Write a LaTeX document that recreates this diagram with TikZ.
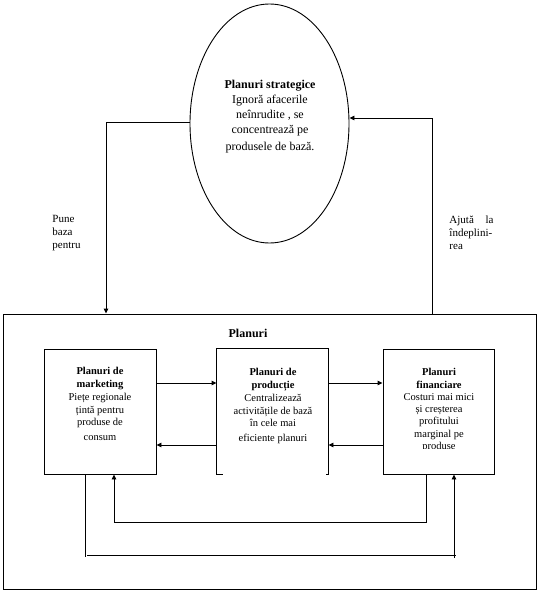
\documentclass[tikz,border=0pt]{standalone}
\usepackage{fontspec}
\setmainfont{Liberation Serif}
\usetikzlibrary{arrows.meta,shapes.geometric}
\begin{document}
\begin{tikzpicture}[x=1pt,y=-1pt,
  line width=0.9pt,
  arr/.style={-{Triangle[length=5pt,width=4.5pt]}},
  box/.style={draw,rectangle,inner sep=0,minimum width=111pt,minimum height=125pt},
  big/.style={font=\fontsize{12}{15}\selectfont, align=center, inner sep=0},
  small/.style={font=\fontsize{10.5}{12.8}\selectfont, align=center, inner sep=0},
  side/.style={font=\fontsize{11}{13}\selectfont, align=left, inner sep=0, anchor=north west}]
\useasboundingbox (0,0) rectangle (539,592);

% strategic ellipse
\node[draw,ellipse,inner sep=0,minimum width=159pt,minimum height=239pt] (strat) at (269.5,123.5) {};
\node[big, anchor=north] (strattxt) at (270,80) {\textbf{Planuri strategice}\\Ignoră afacerile\\neînrudite , se\\concentrează pe\\[2pt]produsele de bază.};

% outer frame
\node[draw,rectangle,inner sep=0,minimum width=533pt,minimum height=275pt] (outer) at (269.5,451.5) {};
\node[font=\fontsize{12}{15}\selectfont\bfseries, inner sep=0] (plan) at (248,333) {Planuri};

% side labels
\node[side] (pune) at (52,215) {Pune\\baza\\pentru};
\node[side] (ajuta) at (449,215) {\makebox[44pt][s]{Ajută la}\\îndeplini-\\rea};

% connectors ellipse <-> frame
\coordinate (cl) at (106,122);
\coordinate (cr) at (432,118);
\draw[arr] (strat.west |- cl) -- (cl) -- (cl |- outer.north);
\draw[arr] (cr |- outer.north) -- (cr) -- (strat.east |- cr);

% boxes
\node[box, minimum width=112pt] (mk) at (100,411.5) {};
\node[rectangle,inner sep=0,minimum width=111pt,minimum height=125pt] (pr) at (272.5,411.5) {};
\draw ([xshift=6pt]pr.south west) -- (pr.south west) -- (pr.north west) -- (pr.north east) -- (pr.south east) -- ([xshift=-2pt]pr.south east);
\node[box] (fin) at (438.5,411.5) {};

\node[small, anchor=north] (mkt) at (100,367) {\textbf{Planuri de}\\\textbf{marketing}\\Piețe regionale\\țintă pentru\\produse de\\[2pt]consum};
\node[small, anchor=north] (prt) at (273,368) {\textbf{Planuri de}\\\textbf{producție}\\Centralizează\\activitățile de bază\\în cele mai\\[1.5pt]eficiente planuri};
\begin{scope}
  \clip (383,349) rectangle (494,448);
  \node[small, anchor=north, font=\fontsize{10.5}{12.3}\selectfont] (fint) at (439,368) {\textbf{Planuri}\\\textbf{financiare}\\Costuri mai mici\\și creșterea\\profitului\\marginal pe\\produse};
\end{scope}

% arrows between boxes
\coordinate (y383) at (0,383);
\coordinate (y445) at (0,445);
\draw[arr] (mk.east |- y383) -- (pr.west |- y383);
\draw[arr] (pr.west |- y445) -- (mk.east |- y445);
\draw[arr] (pr.east |- y383) -- (fin.west |- y383);
\draw[arr] (fin.west |- y445) -- (pr.east |- y445);

% bottom loops
\coordinate (ia) at (426,522);
\coordinate (ib) at (114,522);
\draw[arr] (fin.south -| ia) -- (ia) -- (ib) -- (mk.south -| ib);

\coordinate (xa) at (85,557);
\coordinate (ha) at (87,555);
\coordinate (hb) at (456,555);
\coordinate (xb) at (454,558);
\draw (mk.south -| xa) -- (xa);
\draw (ha) -- (hb);
\draw[arr] (xb) -- (fin.south -| xb);
\end{tikzpicture}
\end{document}
